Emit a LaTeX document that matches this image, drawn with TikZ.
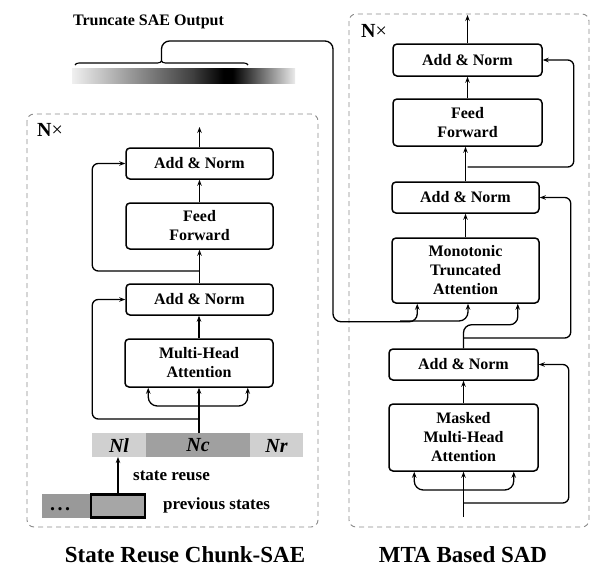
\documentclass[tikz,border=0pt]{standalone}
\usepackage{fontspec}
\setmainfont{Liberation Serif}
\usetikzlibrary{arrows.meta,calc,decorations.pathreplacing}
\pgfdeclarehorizontalshading{truncshade}{100bp}{%
  color(0bp)=(black!6);
  color(25bp)=(black!6);
  color(40bp)=(black!45);
  color(52bp)=(black!75);
  color(59bp)=(black);
  color(61bp)=(black);
  color(75bp)=(black!8);
  color(100bp)=(black!8)}
\definecolor{celllight}{HTML}{D0D0D0}
\definecolor{celldark}{HTML}{A0A0A0}
\definecolor{prevdark}{HTML}{999999}
\definecolor{prevmid}{HTML}{A6A6A6}
\definecolor{framegray}{HTML}{8A8A8A}
\tikzset{
  blk/.style={draw, fill=white, rounded corners=4pt, line width=1.5pt, align=center,
    inner sep=0pt, font=\bfseries\fontsize{16}{19}\selectfont},
  wire/.style={line width=1.3pt},
  arr/.style={wire, -{Stealth[length=6pt,width=4.5pt]}},
  frame/.style={draw=framegray, line width=0.9pt, dash pattern=on 5pt off 4pt, rounded corners=7pt},
  lbl/.style={font=\bfseries\fontsize{17}{20}\selectfont, inner sep=0pt},
  cell/.style={font=\bfseries\itshape\fontsize{20}{22}\selectfont, inner sep=0pt},
  ttl/.style={font=\bfseries\fontsize{23}{26}\selectfont, inner sep=0pt},
  nx/.style={font=\fontsize{20}{22}\selectfont, inner sep=0pt, anchor=west}
}
\begin{document}
\begin{tikzpicture}[x=1pt,y=-1pt]
\useasboundingbox (0,0) rectangle (611,571);

% ---------- frames ----------
\draw[frame] (27,114) rectangle (318,527);
\draw[frame] (349,14) rectangle (589,527);
\node[nx] (nxl) at (37,130) {\textbf{N}×};
\node[nx] (nxr) at (361,31) {\textbf{N}×};

% ---------- truncate output ----------
\node[font=\bfseries\fontsize{16}{19}\selectfont, inner sep=0pt] (trunc) at (148.5,22) {Truncate SAE Output};
\shade[shading=truncshade] (72,68) rectangle (295,83);
\draw[line width=1.1pt, decorate, decoration={brace, amplitude=4pt}] (75,65) -- (248,65);
\coordinate (tip) at (161.5,61);

% ---------- left column ----------
\node[blk, minimum width=147pt, minimum height=31pt] (lan2) at (199.5,163.5) {Add \& Norm};
\node[blk, minimum width=147pt, minimum height=46pt] (lff)  at (199.5,226) {Feed\\Forward};
\node[blk, minimum width=147pt, minimum height=31pt] (lan1) at (199.5,299.5) {Add \& Norm};
\node[blk, minimum width=148pt, minimum height=48pt] (lmha) at (199,363) {Multi-Head\\Attention};
\coordinate (ltop) at (199.5,127);

% bar
\fill[celllight] (92,433) rectangle (146,457);
\fill[celldark]  (146,433) rectangle (250,457);
\fill[celllight] (250,433) rectangle (303,457);
\node[cell] (nl) at (119,445.5) {Nl};
\node[cell] (nc) at (198,445.5) {Nc};
\node[cell] (nr) at (276.5,445.5) {Nr};
\coordinate (barin) at (199,433);
\coordinate (nlb) at (118,457);

% previous states
\fill[prevdark] (42,494) rectangle (91,518);
\node[font=\bfseries\fontsize{20}{22}\selectfont, inner sep=0pt, anchor=base] (dots) at (60,510) {.\hspace{2.5pt}.\hspace{2.5pt}.};
\node[draw, fill=prevmid, line width=2.4pt, minimum width=54pt, minimum height=23pt, inner sep=0pt] (prev) at (118,506) {};
\node[lbl, anchor=west] (sr) at (133,476) {state reuse};
\node[lbl, anchor=west] (ps) at (163,505) {previous states};
\draw[arr] (prev.north) -- (nlb);

% left flow
\draw[arr] (barin) -- (lmha.south);
\coordinate (lbr) at (199,406);
\draw[arr, rounded corners=9pt] (lbr) -| ($(lmha.south west)+(24,0)$);
\draw[arr, rounded corners=9pt] (lbr) -| ($(lmha.south east)+(-26,0)$);
\coordinate (lres1) at (199,419);
\draw[arr, rounded corners=6pt] (lres1) -| ($(lan1.west)+(-33,0)$) -- (lan1.west);
\draw[arr] (lmha.north) -- (lmha.north |- lan1.south);
\draw[arr] (lan1.north) -- (lan1.north |- lff.south);
\coordinate (lres2) at (199.5,271);
\draw[arr, rounded corners=6pt] (lres2) -| ($(lan2.west)+(-33,0)$) -- (lan2.west);
\draw[arr] (lff.north) -- (lan2.south);
\draw[arr] (lan2.north) -- (ltop);

% ---------- right column ----------
\node[blk, minimum width=149pt, minimum height=32pt] (ran3) at (467.5,60) {Add \& Norm};
\node[blk, minimum width=149pt, minimum height=47pt] (rff)  at (467.5,122.5) {Feed\\Forward};
\node[blk, minimum width=147pt, minimum height=31pt] (ran2) at (465.5,197.5) {Add \& Norm};
\node[blk, minimum width=147pt, minimum height=65pt] (rmta) at (465.5,270.5) {Monotonic\\Truncated\\Attention};
\node[blk, minimum width=149pt, minimum height=31pt] (ran1) at (463.5,364.5) {Add \& Norm};
\node[blk, minimum width=149pt, minimum height=67pt] (rmm)  at (463.5,437.5) {Masked\\Multi-Head\\Attention};
\coordinate (rtop) at (467.5,15);
\coordinate (rin) at (463.5,517);

% masked MHA inputs
\draw[arr] (rin) -- (rmm.south);
\coordinate (rbr) at (463.5,490);
\draw[arr, rounded corners=9pt] (rbr) -| ($(rmm.south west)+(26,0)$);
\draw[arr, rounded corners=9pt] (rbr) -| ($(rmm.south east)+(-25,0)$);
\coordinate (rres1) at (463.5,503);
\draw[arr, rounded corners=6pt] (rres1) -| ($(ran1.east)+(30,0)$) -- (ran1.east);
\draw[arr] (rmm.north) -- (ran1.south);

% truncate output to MTA (K, V)
\coordinate (kin) at ($(rmta.south west)+(26,0)$);
\coordinate (vin) at ($(rmta.south)+(2.5,0)$);
\coordinate (qin) at ($(rmta.south east)+(-22,0)$);
\draw[arr, rounded corners=8pt] (tip) |- (333,41) |- ($(kin)+(0,18)$) -- (kin);
\coordinate (vbr) at (400,321);
\draw[arr, rounded corners=9pt] (vbr) -| (vin);

% Q from lower Add & Norm
\draw[arr, rounded corners=8pt] (ran1.north) |- ($(qin)+(0,21)$) -- (qin);
\coordinate (rres2) at (463.5,338);
\draw[arr, rounded corners=6pt] (rres2) -| ($(ran2.east)+(31,0)$) -- (ran2.east);

% upper flow
\draw[arr] (rmta.north) -- (ran2.south);
\draw[arr] (ran2.north) -- (ran2.north |- rff.south);
\coordinate (rres3) at (467.5,167);
\draw[arr, rounded corners=6pt] (rres3) -| ($(ran3.east)+(31,0)$) -- (ran3.east);
\draw[arr] (rff.north) -- (ran3.south);
\draw[arr] (ran3.north) -- (rtop);

% ---------- titles ----------
\node[ttl] (t1) at (185,555) {State Reuse Chunk-SAE};
\node[ttl] (t2) at (463,555) {MTA Based SAD};
\end{tikzpicture}
\end{document}
